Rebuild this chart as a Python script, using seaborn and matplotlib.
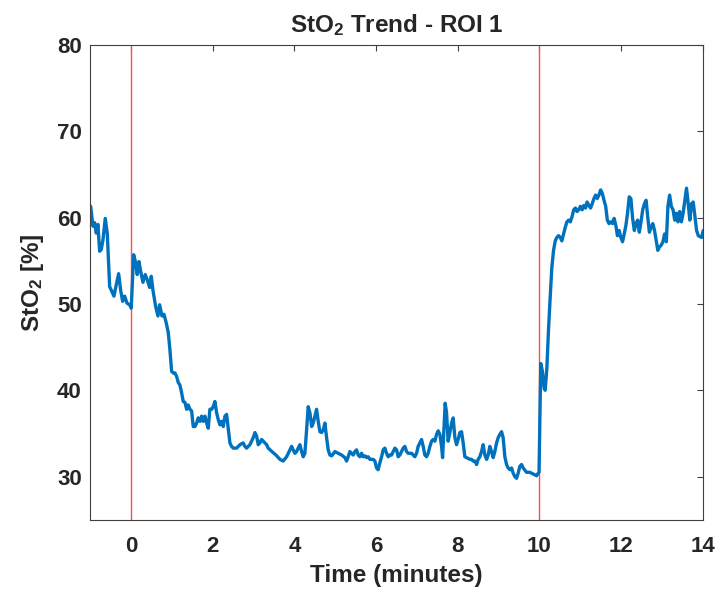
import numpy as np
import pandas as pd
import seaborn as sns
import matplotlib.pyplot as plt

# time (minutes) and StO2 (%)
time_min = [-0.986, -0.930, -0.888, -0.849, -0.808, -0.766, -0.727, -0.685, -0.629, -0.580,
            -0.521, -0.465, -0.416, -0.360, -0.301, -0.252, -0.203, -0.154, -0.098, -0.032,
            0.007, 0.066, 0.115, 0.154, 0.196, 0.237, 0.294, 0.350, 0.399, 0.458,
            0.497, 0.538, 0.605, 0.661, 0.702, 0.759, 0.808, 0.864, 0.913, 0.954,
            0.996, 1.035, 1.077, 1.118, 1.158, 1.199, 1.241, 1.280, 1.322, 1.363,
            1.402, 1.444, 1.486, 1.525, 1.566, 1.608, 1.647, 1.689, 1.730, 1.769,
            1.811, 1.853, 1.892, 1.933, 1.975, 2.014, 2.056, 2.097, 2.137, 2.178,
            2.220, 2.259, 2.301, 2.342, 2.381, 2.423, 2.464, 2.504, 2.587, 2.668,
            2.748, 2.790, 2.832, 2.912, 2.993, 3.035, 3.076, 3.116, 3.157, 3.199,
            3.238, 3.280, 3.321, 3.360, 3.451, 3.549, 3.647, 3.727, 3.811, 3.891,
            3.933, 3.972, 4.014, 4.055, 4.094, 4.136, 4.178, 4.217, 4.258, 4.300,
            4.339, 4.381, 4.423, 4.462, 4.503, 4.545, 4.584, 4.626, 4.667, 4.707,
            4.748, 4.790, 4.829, 4.870, 4.912, 4.993, 5.073, 5.157, 5.237, 5.279,
            5.318, 5.360, 5.401, 5.441, 5.482, 5.524, 5.563, 5.605, 5.646, 5.685,
            5.727, 5.769, 5.808, 5.849, 5.930, 5.972, 6.013, 6.052, 6.094, 6.136,
            6.175, 6.216, 6.258, 6.297, 6.339, 6.380, 6.420, 6.461, 6.503, 6.542,
            6.583, 6.625, 6.664, 6.706, 6.747, 6.787, 6.870, 6.950, 6.992, 7.031,
            7.073, 7.114, 7.154, 7.195, 7.237, 7.276, 7.318, 7.359, 7.398, 7.440,
            7.482, 7.521, 7.562, 7.604, 7.629, 7.660, 7.692, 7.726, 7.765, 7.807,
            7.849, 7.888, 7.930, 7.971, 8.010, 8.052, 8.093, 8.133, 8.174, 8.216,
            8.297, 8.338, 8.377, 8.419, 8.461, 8.500, 8.541, 8.583, 8.622, 8.664,
            8.706, 8.745, 8.786, 8.828, 8.867, 8.908, 8.950, 8.989, 9.031, 9.073,
            9.112, 9.153, 9.195, 9.234, 9.276, 9.317, 9.357, 9.398, 9.440, 9.479,
            9.520, 9.562, 9.601, 9.684, 9.765, 9.851, 9.931, 9.956, 9.990, 10.032,
            10.073, 10.115, 10.140, 10.181, 10.220, 10.262, 10.303, 10.345, 10.387, 10.426,
            10.467, 10.509, 10.548, 10.592, 10.634, 10.673, 10.715, 10.756, 10.798, 10.839,
            10.881, 10.920, 10.962, 11.003, 11.045, 11.087, 11.128, 11.167, 11.209, 11.251,
            11.292, 11.334, 11.375, 11.414, 11.456, 11.498, 11.539, 11.581, 11.622, 11.662,
            11.703, 11.745, 11.787, 11.828, 11.870, 11.909, 11.951, 11.992, 12.034, 12.075,
            12.117, 12.156, 12.198, 12.239, 12.281, 12.323, 12.364, 12.403, 12.445, 12.486,
            12.528, 12.570, 12.611, 12.650, 12.692, 12.734, 12.775, 12.817, 12.859, 12.898,
            12.939, 12.981, 13.023, 13.064, 13.106, 13.145, 13.187, 13.228, 13.270, 13.312,
            13.353, 13.392, 13.434, 13.475, 13.517, 13.559, 13.600, 13.642, 13.681, 13.722,
            13.764, 13.806, 13.847, 13.889, 13.970, 14.010]

sto2 = [61.3, 59.0, 59.4, 58.2, 59.2, 56.1, 56.3, 57.4, 59.9, 58.2,
        52.0, 51.4, 50.9, 52.2, 53.5, 51.6, 50.3, 50.9, 50.1, 49.9,
        49.5, 55.7, 54.8, 53.4, 54.9, 53.8, 52.5, 53.4, 52.8, 51.9,
        53.2, 51.6, 49.7, 48.6, 49.9, 48.6, 48.8, 47.8, 46.7, 44.7,
        42.2, 42.0, 42.0, 41.6, 40.9, 40.6, 39.7, 38.7, 38.6, 37.8,
        38.3, 37.8, 37.6, 35.8, 35.8, 36.2, 36.8, 36.4, 37.0, 36.4,
        37.0, 36.2, 35.6, 37.8, 37.8, 38.1, 38.7, 37.4, 36.6, 36.0,
        36.4, 35.8, 37.0, 37.2, 35.6, 33.9, 33.5, 33.3, 33.3, 33.7,
        33.9, 33.5, 33.3, 33.7, 34.5, 35.1, 34.7, 33.7, 33.9, 34.3,
        34.1, 33.9, 33.7, 33.3, 32.9, 32.5, 32.0, 31.8, 32.3, 33.1,
        33.5, 33.1, 32.7, 32.9, 33.3, 33.7, 32.9, 32.3, 32.7, 35.4,
        38.1, 37.4, 35.8, 36.2, 37.0, 37.8, 36.4, 35.2, 35.1, 35.4,
        36.2, 34.5, 33.1, 32.5, 32.4, 32.9, 32.7, 32.5, 32.2, 31.8,
        32.3, 32.9, 32.7, 32.5, 32.9, 33.1, 32.5, 32.3, 32.7, 32.3,
        32.4, 32.2, 32.3, 32.0, 32.0, 31.8, 31.0, 30.8, 31.6, 32.3,
        33.1, 33.3, 32.7, 32.3, 32.5, 32.5, 32.9, 33.3, 33.1, 32.3,
        32.5, 32.9, 33.3, 33.5, 32.9, 32.7, 32.7, 32.3, 32.7, 33.5,
        33.9, 34.3, 33.5, 32.5, 32.3, 32.7, 33.5, 34.1, 34.3, 34.1,
        34.9, 35.3, 34.9, 33.5, 32.2, 35.4, 38.5, 37.4, 34.1, 35.1,
        36.2, 36.8, 34.5, 33.7, 34.3, 35.1, 35.2, 33.9, 32.3, 32.2,
        32.0, 32.0, 31.8, 31.8, 31.4, 32.0, 32.3, 32.9, 33.7, 32.5,
        32.0, 32.5, 33.5, 32.9, 32.2, 32.9, 33.9, 34.5, 34.9, 35.2,
        34.5, 32.3, 31.4, 31.0, 30.8, 31.0, 30.4, 30.0, 29.8, 30.4,
        31.2, 31.4, 31.0, 30.5, 30.5, 30.3, 30.1, 30.3, 30.5, 43.1,
        42.2, 40.2, 40.0, 42.5, 46.8, 50.7, 54.2, 56.2, 57.3, 57.7,
        57.9, 57.7, 57.3, 58.1, 58.9, 59.5, 59.7, 59.5, 60.1, 60.9,
        61.1, 60.7, 60.9, 61.3, 60.9, 61.4, 61.1, 61.8, 61.4, 61.1,
        61.6, 62.2, 62.6, 62.2, 62.6, 63.2, 62.8, 62.0, 61.3, 59.7,
        59.3, 59.5, 59.3, 59.9, 59.1, 57.9, 58.5, 57.7, 57.2, 58.1,
        59.1, 60.5, 62.4, 62.2, 59.9, 58.5, 59.3, 59.7, 58.3, 59.5,
        60.9, 61.6, 62.0, 60.1, 58.3, 58.9, 59.3, 58.5, 57.3, 56.2,
        56.6, 56.8, 57.2, 58.1, 57.2, 61.3, 62.6, 61.3, 60.9, 59.7,
        60.5, 59.5, 60.7, 59.5, 60.5, 62.0, 63.4, 61.6, 59.7, 61.6,
        61.8, 60.1, 58.5, 57.9, 57.7, 58.5]

event_times = [0, 10]
x_ticks = [0, 2, 4, 6, 8, 10, 12, 14]
y_ticks = [30, 40, 50, 60, 70, 80]

df = pd.DataFrame({"Time": time_min, "StO2": sto2})

sns.set_theme(style="white")
plt.rcParams["font.family"] = ["Liberation Sans", "DejaVu Sans"]
plt.rcParams["font.weight"] = "bold"
plt.rcParams["mathtext.fontset"] = "custom"
plt.rcParams["mathtext.rm"] = "Liberation Sans:bold"
plt.rcParams["mathtext.it"] = "Liberation Sans:bold"
plt.rcParams["mathtext.bf"] = "Liberation Sans:bold"
plt.rcParams["mathtext.default"] = "rm"

fig = plt.figure(figsize=(7.15, 5.9), dpi=100)
ax = fig.add_axes([0.126, 0.119, 0.857, 0.805])

for t in event_times:
    ax.axvline(t, color="#ff4c4c", lw=1.0, zorder=1)

sns.lineplot(data=df, x="Time", y="StO2", ax=ax, color="#0072BD",
             lw=2.4, estimator=None, zorder=2)

ax.set_xlim(-1, 14)
ax.set_ylim(25, 80)
ax.set_xticks(x_ticks)
ax.set_yticks(y_ticks)

dark = "#262626"
for s in ax.spines.values():
    s.set_visible(True)
    s.set_color("#404040")
    s.set_linewidth(0.8)
ax.tick_params(direction="in", length=4, width=0.8, colors="#404040",
               labelcolor=dark, top=True, right=True, labelsize=16)
ax.tick_params(axis="x", pad=12)
ax.tick_params(axis="y", pad=6)
for lab in ax.get_xticklabels() + ax.get_yticklabels():
    lab.set_fontweight("bold")

ax.set_xlabel("Time (minutes)", fontsize=17.5, fontweight="bold", color=dark, labelpad=5)
ax.set_ylabel("StO$_2$ [%]", fontsize=17.5, fontweight="bold", color=dark, labelpad=8)
ax.set_title("StO$_2$ Trend - ROI 1", fontsize=17.5, fontweight="bold", color=dark, pad=9)

fig.savefig("out.png", dpi=100)
